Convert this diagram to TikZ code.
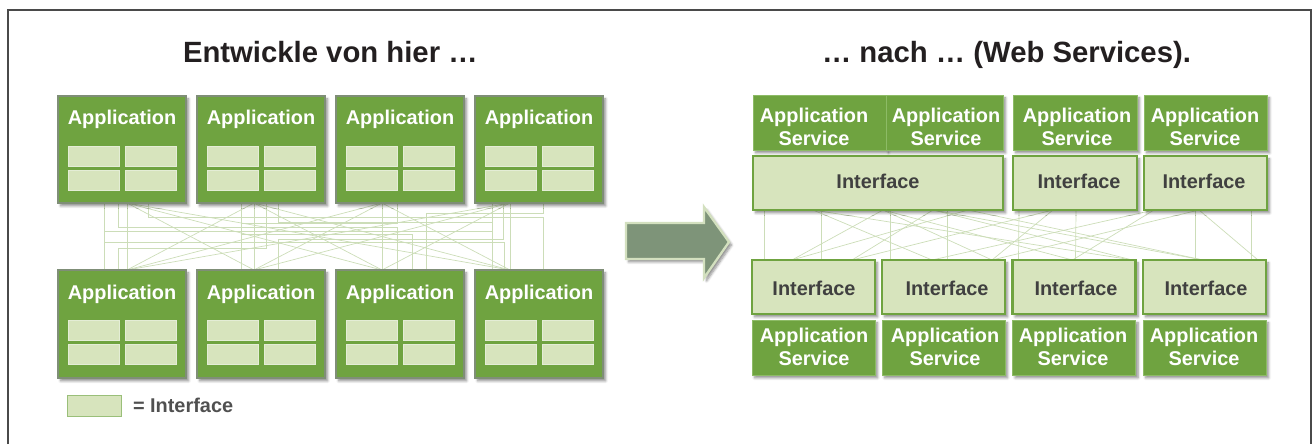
\documentclass[tikz,border=0pt]{standalone}
\usepackage{fontspec}
\setmainfont{Liberation Sans}
\usetikzlibrary{calc,shadows.blur}
\pgfdeclarelayer{bg}
\pgfsetlayers{bg,main}
\definecolor{appgreen}{HTML}{6FA340}
\definecolor{appborder}{HTML}{7F8E77}
\definecolor{asborder}{HTML}{8DBB66}
\definecolor{ifill}{HTML}{D7E4BD}
\definecolor{iborder}{HTML}{E4EDD6}
\definecolor{meshcol}{HTML}{CCDDB8}
\definecolor{arrowfill}{HTML}{7E9479}
\definecolor{arrowedge}{HTML}{D3E0BF}
\definecolor{titlecol}{HTML}{231F20}
\definecolor{ifacetext}{HTML}{404040}
\definecolor{legendtext}{HTML}{505050}
\definecolor{framecol}{HTML}{4A4A4A}
\newcommand\shtext[4]{%
  \node[#3] (#1) at #2 {#4};}
\begin{document}
\begin{tikzpicture}[x=0.03cm,y=-0.03cm,
  sz/.style 2 args={minimum width=#1*0.03cm, minimum height=#2*0.03cm},
  basic/.style={inner sep=0pt, outer sep=0pt},
  shad/.style={blur shadow={shadow xshift=2.2pt, shadow yshift=-2.5pt, shadow opacity=45, shadow blur steps=6}},
  appbox/.style={basic, fill=appgreen, draw=appborder, line width=1.3pt, shad},
  asbox/.style={basic, fill=appgreen, draw=asborder, line width=0.6pt, shad},
  ifbox/.style={basic, fill=ifill, draw=appgreen, line width=1.8pt, shad},
  tile/.style={basic, fill=ifill, draw=iborder, line width=0.5pt, sz={51}{20}},
  legtile/.style={basic, fill=ifill, draw=appgreen!70, line width=0.8pt},
  title/.style={basic, anchor=base west, text=titlecol, font=\bfseries\fontsize{25}{30}\selectfont},
  apptxt/.style={basic, anchor=base, align=center, text=white, font=\bfseries\fontsize{17}{19.2}\selectfont},
  iftxt/.style={basic, anchor=base, text=ifacetext, font=\bfseries\fontsize{17}{19.6}\selectfont},
  legtxt/.style={basic, anchor=base west, text=legendtext, font=\bfseries\fontsize{17}{19.6}\selectfont},
  mesh/.style={draw=meshcol, line width=0.6pt},
  bigarrow/.style={fill=arrowfill, draw=arrowedge, line width=2pt, line join=miter, shad},
  frame/.style={draw=framecol, line width=1.3pt}]
\useasboundingbox (0,0) rectangle (1316,444);

% titles
\shtext{title1}{(183,62)}{title}{Entwickle von hier …}
\shtext{title2}{(822,62)}{title}{… nach … (Web Services).}

% left application boxes
\foreach \i in {1,...,4}{
  \pgfmathsetmacro\cx{122+139*(\i-1)}
  \node[appbox,sz={128}{107}] (t\i) at (\cx,149.5) {};
  \node[appbox,sz={128}{108}] (b\i) at (\cx,324) {};
  \node[tile] (t\i-1) at (\cx-28.5,156) {};
  \node[tile] (t\i-2) at (\cx+29,156) {};
  \node[tile] (t\i-3) at (\cx-28.5,180.5) {};
  \node[tile] (t\i-4) at (\cx+29,180.5) {};
  \node[tile] (b\i-1) at (\cx-28.5,330) {};
  \node[tile] (b\i-2) at (\cx+29,330) {};
  \node[tile] (b\i-3) at (\cx-28.5,354.5) {};
  \node[tile] (b\i-4) at (\cx+29,354.5) {};
  \shtext{t\i-txt}{(\cx,124)}{apptxt}{Application}
  \shtext{b\i-txt}{(\cx,299)}{apptxt}{Application}
}

% legend
\node[legtile,sz={54}{21}] (leg) at (94,405.5) {};
\shtext{legt}{(133,412)}{legtxt}{= Interface}

% arrow
\draw[bigarrow] (626,223) -- (704,223) -- (704,207) -- (729,242) -- (704,278) -- (704,259) -- (626,259) -- cycle;

% right side
\node[asbox,sz={133}{55}] (rA1) at (819.5,122.5) {};
\node[asbox,sz={117}{55}] (rA2) at (944.5,122.5) {};
\node[asbox,sz={124}{55}] (rA3) at (1075,122.5) {};
\node[asbox,sz={123}{55}] (rA4) at (1205.5,122.5) {};
\node[ifbox,sz={250}{54}] (rI1) at (878,183) {};
\node[ifbox,sz={124}{54}] (rI2) at (1075,183) {};
\node[ifbox,sz={123}{54}] (rI3) at (1205.5,183) {};
\foreach \n/\x in {1/813.5,2/943.5,3/1074,4/1204.5}{
  \node[ifbox,sz={123}{54}] (rJ\n) at (\x,287) {};
  \node[asbox,sz={123}{55}] (rB\n) at (\x,347.5) {};
}
\shtext{rA1t}{(814,145)}{apptxt}{Application\\Service}
\shtext{rA2t}{(946,145)}{apptxt}{Application\\Service}
\shtext{rA3t}{(1077,145)}{apptxt}{Application\\Service}
\shtext{rA4t}{(1205,145)}{apptxt}{Application\\Service}
\shtext{rI1t}{(878,188)}{iftxt}{Interface}
\shtext{rI2t}{(1079,188)}{iftxt}{Interface}
\shtext{rI3t}{(1204,188)}{iftxt}{Interface}
\shtext{rJ1t}{(814,295)}{iftxt}{Interface}
\shtext{rJ2t}{(947,295)}{iftxt}{Interface}
\shtext{rJ3t}{(1076,295)}{iftxt}{Interface}
\shtext{rJ4t}{(1206,295)}{iftxt}{Interface}
\shtext{rB1t}{(814,365)}{apptxt}{Application\\Service}
\shtext{rB2t}{(945,365)}{apptxt}{Application\\Service}
\shtext{rB3t}{(1073,365)}{apptxt}{Application\\Service}
\shtext{rB4t}{(1204,365)}{apptxt}{Application\\Service}

% meshes (background)
\begin{pgfonlayer}{bg}
\foreach \i/\o in {1/69,2/57,3/46,4/35}{
  \coordinate (f\i) at ($(t\i.south west)+(\o,0)$);
  \coordinate (g\i) at ($(b\i.north west)+(\o,0)$);
}
\foreach \i in {1,...,4}{\foreach \j in {1,...,4}{\draw[mesh] (f\i) -- (g\j);}}
\draw[mesh] ($(t1.south west)+(46,0)$) -- ++(0,39) -| ($(b4.north west)+(29,0)$);
\draw[mesh] ($(t1.south west)+(60,0)$) -- ++(0,24) -| ($(b3.north west)+(61,0)$);
\draw[mesh] ($(t1.south west)+(90,0)$) -- ++(0,14) -| ($(b4.north west)+(68,0)$);
\draw[mesh] ($(t2.south west)+(44,0)$) -- ++(0,31) -| ($(b3.north west)+(76,0)$);
\draw[mesh] ($(t2.south west)+(69,0)$) -- ++(0,45) -| ($(b1.north west)+(60,0)$);
\draw[mesh] ($(t2.south west)+(81,0)$) -- ++(0,19) -| ($(b4.north west)+(17,0)$);
\draw[mesh] ($(t3.south west)+(61,0)$) -- ++(0,20) -| ($(b2.north west)+(44,0)$);
\draw[mesh] ($(t4.south west)+(17,0)$) -- ++(0,28) -| ($(b1.north west)+(46,0)$);
\draw[mesh] ($(t4.south west)+(28,0)$) -- ++(0,36) -| ($(b2.north west)+(81,0)$);
\draw[mesh] ($(t4.south west)+(68,0)$) -- ++(0,10) -| ($(b3.north west)+(90,0)$);
% right mesh
\draw[mesh] ($(rI1.south west)+(11,0)$) -- ($(rJ1.north west)+(12,0)$);
\draw[mesh] ($(rI1.south west)+(68,0)$) -- ($(rJ1.north west)+(69,0)$);
\draw[mesh] ($(rI1.south west)+(137,0)$) -- ($(rJ2.north west)+(8,0)$);
\draw[mesh] ($(rI1.south west)+(194,0)$) -- ($(rJ2.north west)+(65,0)$);
\draw[mesh] ($(rI2.south west)+(6,0)$) -- ($(rJ3.north west)+(6,0)$);
\draw[mesh] ($(rI2.south west)+(63,0)$) -- ($(rJ3.north west)+(63,0)$);
\draw[mesh] ($(rI3.south west)+(51,0)$) -- ($(rJ4.north west)+(52,0)$);
\draw[mesh] ($(rI3.south west)+(107,0)$) -- ($(rJ4.north west)+(108,0)$);
\coordinate (u1) at ($(rI1.south west)+(60,0)$);
\coordinate (u2) at ($(rI1.south west)+(130,0)$);
\coordinate (u3) at ($(rI1.south west)+(180,0)$);
\coordinate (u4) at ($(rI1.south west)+(215,0)$);
\coordinate (u5) at ($(rI2.south west)+(40,0)$);
\coordinate (u6) at ($(rI3.south west)+(10,0)$);
\coordinate (u7) at ($(rI3.south west)+(55,0)$);
\coordinate (v1) at ($(rJ1.north west)+(40,0)$);
\coordinate (v2) at ($(rJ1.north west)+(100,0)$);
\coordinate (v3) at ($(rJ2.north west)+(50,0)$);
\coordinate (v4) at ($(rJ2.north west)+(110,0)$);
\coordinate (v5) at ($(rJ3.north west)+(60,0)$);
\coordinate (v6) at ($(rJ3.north west)+(120,0)$);
\coordinate (v7) at ($(rJ4.north west)+(60,0)$);
\coordinate (v8) at ($(rJ4.north west)+(115,0)$);
\foreach \a/\b in {u1/v3,u1/v6,u2/v1,u2/v5,u3/v6,u3/v2,u4/v1,u4/v7,u5/v2,u5/v4,u6/v3,u6/v5,u7/v4,u7/v8,u3/v7,u2/v4}{
  \draw[mesh] (\a) -- (\b);
}
\end{pgfonlayer}

% frame
\draw[frame] (8,444) -- (8,10) -- (1311,10) -- (1311,444);
\end{tikzpicture}
\end{document}
